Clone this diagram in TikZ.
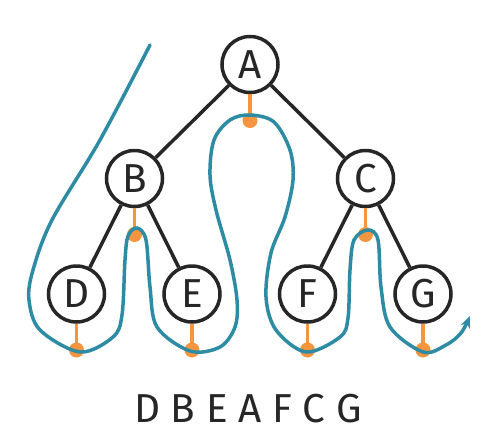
\documentclass[tikz,border=0pt]{standalone}
\usepackage{fontspec}
\setmainfont{Fira Sans}
\usetikzlibrary{arrows.meta}
\definecolor{tourblue}{HTML}{2E8BA4}
\definecolor{stuborange}{HTML}{F5953F}
\definecolor{inkgray}{HTML}{262626}
\begin{document}
\begin{tikzpicture}[
  vertex/.style={circle,draw=inkgray,line width=0.07cm,minimum size=1.12cm,inner sep=0pt,
    text=inkgray,font=\fontsize{23}{26}\selectfont},
  branch/.style={draw=inkgray,line width=0.07cm},
  stub/.style={draw=stuborange,line width=0.07cm},
  tour/.style={draw=tourblue,line width=0.07cm,line cap=round}
]
  \useasboundingbox (0,0) rectangle (9.72,-8.74);

  \node[vertex] (A) at (5.0,-1.29) {A};
  \node[vertex] (B) at (2.69,-3.57) {B};
  \node[vertex] (C) at (7.31,-3.57) {C};
  \node[vertex] (D) at (1.53,-5.88) {D};
  \node[vertex] (E) at (3.84,-5.88) {E};
  \node[vertex] (F) at (6.15,-5.88) {F};
  \node[vertex] (G) at (8.46,-5.88) {G};

  \foreach \p/\c in {A/B,A/C,B/D,B/E,C/F,C/G} {
   \draw[branch] (\p) -- (\c);
  }

  \foreach \n in {A,B,C,D,E,F,G} {
   \path (\n) ++(0,-1.12) coordinate (d\n);
   \draw[stub] (\n) -- (d\n);
   \fill[stuborange] (d\n) circle (0.15);
  }

  \draw[tour,-{Stealth[length=0.24cm,width=0.2cm]}] plot[smooth,tension=0.55] coordinates {
   (3.00,-0.90) (2.00,-2.80) (1.04,-4.40) (0.66,-5.40) (0.58,-6.00) (0.80,-6.60)
   (1.60,-7.04) (2.26,-6.74) (2.44,-6.30) (2.50,-5.20) (2.56,-4.72) (2.74,-4.56)
   (2.92,-4.80) (3.00,-5.74) (3.14,-6.54) (3.80,-7.02) (4.40,-6.94) (4.70,-6.54)
   (4.74,-6.00) (4.60,-5.20) (4.32,-4.20) (4.20,-3.50) (4.28,-2.80) (4.60,-2.40)
   (5.00,-2.30) (5.48,-2.44) (5.80,-3.00) (5.86,-3.60) (5.70,-4.34) (5.42,-5.06)
   (5.32,-5.94) (5.52,-6.60) (6.12,-7.04) (6.80,-6.74) (6.96,-6.36) (7.00,-5.40)
   (7.08,-4.80) (7.36,-4.60) (7.56,-4.80) (7.62,-5.74) (7.80,-6.54) (8.46,-7.04)
   (8.92,-6.90) (9.22,-6.66) (9.40,-6.32)
  };

  \node[text=inkgray,font=\fontsize{23}{26}\selectfont] (order) at (4.96,-8.18) {D B E A F C G};
\end{tikzpicture}
\end{document}
